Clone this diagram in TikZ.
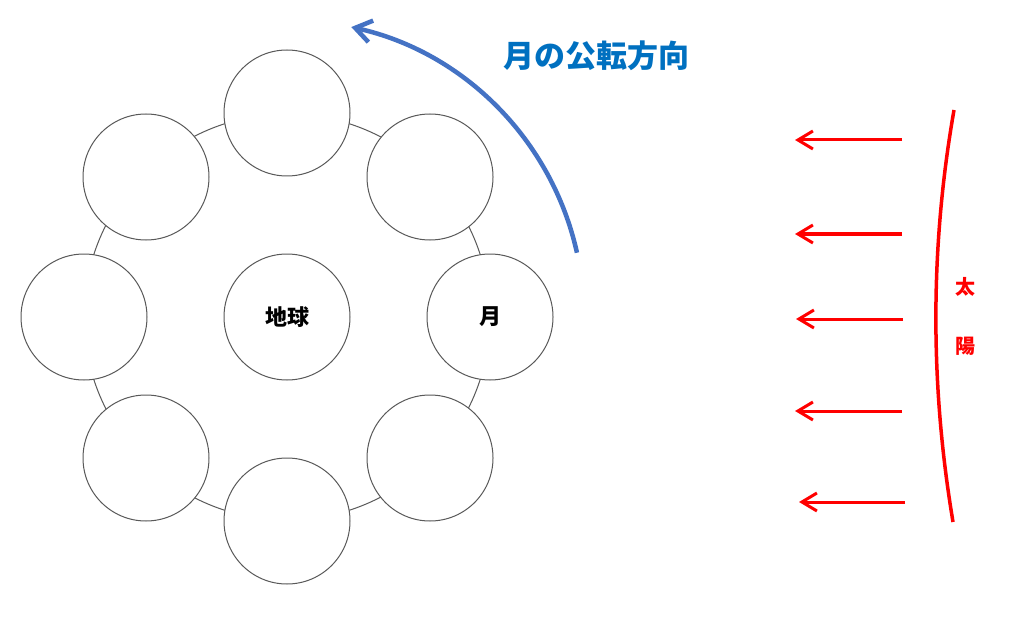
\documentclass[tikz,border=0pt]{standalone}
\usepackage{fontspec}
\newfontfamily\cjk{Noto Sans CJK JP}
\usetikzlibrary{arrows.meta,calc}
\definecolor{orbitgray}{HTML}{595959}
\definecolor{arcblue}{HTML}{4472C4}
\definecolor{titleblue}{HTML}{0070C0}
\definecolor{sunred}{HTML}{FF0000}
\tikzset{
  body/.style={circle, draw=orbitgray, line width=1pt, fill=white, minimum size=126pt, inner sep=0pt},
  bodylabel/.style={font=\cjk\bfseries\fontsize{22}{22}\selectfont},
  ray/.style={draw=sunred, line width=3pt, -{Straight Barb[length=15pt,width=18pt]}},
}
\begin{document}
\begin{tikzpicture}[x=1pt,y=-1pt]
\useasboundingbox (0,0) rectangle (1024,620);
\fill[white] (0,0) rectangle (1024,620);
% orbit
\coordinate (E) at (287,317);
\draw[orbitgray, line width=1pt] (E) circle[radius=203];
% earth
\node[body, bodylabel] (earth) at (E) {地球};
% moons
\node[body, bodylabel] (m0) at (490,317) {月};
\node[body] (m1) at (430,177) {};
\node[body] (m2) at (287,113) {};
\node[body] (m3) at (146,177) {};
\node[body] (m4) at (84,317) {};
\node[body] (m5) at (146,458) {};
\node[body] (m6) at (287,521) {};
\node[body] (m7) at (430,458) {};
% revolution arc
\draw[arcblue, line width=4.5pt, -{Straight Barb[length=16pt,width=22pt]}]
  ($(E)+(-12.5:297)$) arc[start angle=-12.5, end angle=-77.5, radius=297];
\node[text=titleblue, font=\cjk\bfseries\fontsize{31}{31}\selectfont, anchor=center] (title) at (596,56) {月の公転方向};
% sun
\coordinate (s1) at (954,110);
\coordinate (s2) at (953,522);
\draw[sunred, line width=3.5pt] (s1) .. controls (930,247) and (930,385) .. (s2);
\node[text=sunred, font=\cjk\bfseries\fontsize{20}{20}\selectfont] (tai) at (965,287) {太};
\node[text=sunred, font=\cjk\bfseries\fontsize{20}{20}\selectfont] (you) at (965,346) {陽};
% rays
\foreach \i/\y/\a/\b in {1/140/902/795, 2/234/902/795, 3/319/903/796, 4/411/902/795, 5/502/905/799}{
  \coordinate (r\i a) at (\a,\y);
  \coordinate (r\i b) at (\b,\y);
  \draw[ray] (r\i a) -- (r\i b);
}
\end{tikzpicture}
\end{document}
